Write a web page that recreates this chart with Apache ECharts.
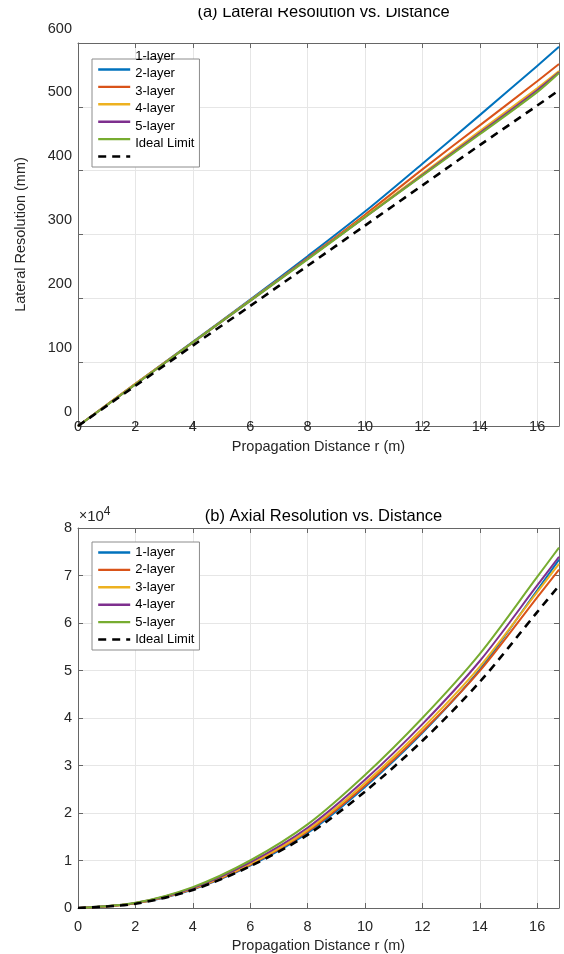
<!DOCTYPE html>
<html>
<head>
<meta charset="utf-8">
<script src="https://cdn.jsdelivr.net/npm/echarts@6/dist/echarts.min.js"></script>
<style>
body { margin: 0; background: #fff; }
#container1 { position: absolute; left: 0; top: 8px; width: 564px; height: 472px; }
#container2 { position: absolute; left: 0; top: 480px; width: 564px; height: 474px; }
</style>
</head>
<body>
<div id="container1"></div>
<div id="container2"></div>
<script>
// propagation distance r (m)
var distance = [0, 2, 4, 6, 8, 10, 12, 14, 16, 16.76];
var names = ['1-layer', '2-layer', '3-layer', '4-layer', '5-layer', 'Ideal Limit'];
var colors = ['#0072BD', '#D95319', '#EDB120', '#7E2F8E', '#77AC30', '#000000'];

// (a) lateral resolution (mm)
var lateral1 = [0, 66, 132, 198, 266, 336, 411, 487, 564, 594];
var lateral2 = [0, 66, 131, 197, 263, 331, 402, 471, 540, 567];
var lateral3 = [0, 66, 131, 197, 262, 328, 395, 462, 529, 556];
var lateral4 = [0, 65, 131, 196, 262, 327, 393, 459, 526, 554];
var lateral5 = [0, 65, 131, 196, 261, 327, 392, 457, 523, 553];
var lateralIdeal = [0, 63, 126, 188, 251, 314, 377, 440, 502, 526];

// (b) axial resolution (mm)
var axial1 = [0, 980, 3900, 8900, 15800, 25500, 36900, 50200, 66900, 73350];
var axial2 = [0, 1000, 4000, 9100, 16100, 25800, 37100, 49900, 65400, 71250];
var axial3 = [0, 1000, 4100, 9300, 16400, 26300, 37800, 50800, 66500, 72450];
var axial4 = [0, 1050, 4200, 9600, 16900, 27000, 38700, 52000, 67900, 73950];
var axial5 = [0, 1100, 4400, 10000, 17600, 28000, 40000, 53500, 69700, 75850];
var axialIdeal = [0, 900, 3800, 8800, 15400, 24500, 35200, 47600, 62300, 67850];

var font = 'Liberation Sans, Arial, sans-serif';
var axisColor = '#666666';
var textColor = '#262626';

function pairs(vals) {
    return distance.map(function (r, i) { return [r, vals[i]]; });
}

function makeSeries(list) {
    return list.map(function (vals, i) {
        var ideal = i === 5;
        return {
            name: names[i],
            type: 'line',
            smooth: 0.3,
            symbol: 'none',
            data: pairs(vals),
            z: ideal ? 3 : 2,
            lineStyle: {
                color: colors[i],
                width: ideal ? 2.6 : 2,
                type: ideal ? [8, 6] : 'solid'
            },
            itemStyle: { color: colors[i] }
        };
    });
}

function legend(top, showText, showIcon, border) {
    return {
        orient: 'vertical',
        left: 92,
        top: top,
        itemWidth: 32,
        itemHeight: 14,
        itemGap: 4.4,
        padding: [4, 5, 4, 5],
        borderColor: border ? '#8c8c8c' : 'transparent',
        borderWidth: border ? 1 : 0,
        backgroundColor: border ? '#fff' : 'transparent',
        itemStyle: { opacity: 0 },
        lineStyle: { width: 2.4, opacity: showIcon ? 1 : 0 },
        textStyle: { fontSize: 13, fontFamily: font, color: showText ? '#000' : 'rgba(0,0,0,0)' },
        data: names
    };
}

function xAxes(labelMargin, nameGap) {
    return [{
        type: 'value',
        position: 'bottom',
        min: 0, max: 16.76, interval: 2,
        name: 'Propagation Distance r (m)',
        nameLocation: 'middle',
        nameGap: nameGap,
        nameTextStyle: { fontSize: 14.5, fontFamily: font, color: textColor },
        axisLine: { onZero: false, lineStyle: { color: axisColor } },
        axisTick: { inside: true, length: 5, lineStyle: { color: axisColor } },
        axisLabel: {
            margin: labelMargin, fontSize: 14.5, fontFamily: font, color: textColor,
            formatter: function (v) { return v % 2 === 0 ? v : ''; }
        },
        splitLine: { lineStyle: { color: '#e6e6e6' } }
    }, {
        type: 'value',
        position: 'top',
        min: 0, max: 16.76, interval: 2,
        axisLine: { onZero: false, lineStyle: { color: axisColor } },
        axisTick: { inside: true, length: 5, lineStyle: { color: axisColor } },
        axisLabel: { show: false },
        splitLine: { show: false }
    }];
}

function rightAxis(max, interval) {
    return {
        type: 'value',
        position: 'right',
        min: 0, max: max, interval: interval,
        axisLine: { show: true, onZero: false, lineStyle: { color: axisColor } },
        axisTick: { show: true, inside: true, length: 5, lineStyle: { color: axisColor } },
        axisLabel: { show: false },
        splitLine: { show: false }
    };
}

/*(a) lateral*/
var dom = document.getElementById("container1");
var myChart = echarts.init(dom);
var option = {
    animation: false,
    title: {
        text: '(a) Lateral Resolution vs. Distance',
        left: 318.5, textAlign: 'center', top: -9,
        textStyle: { fontSize: 16.5, fontWeight: 'normal', fontFamily: font, color: '#000' }
    },
    grid: { left: 78, top: 35, width: 481, height: 383, outerBoundsMode: 'none' },
    legend: [legend(51, false, true, true), legend(38, true, false, false)],
    xAxis: xAxes(-7, 13),
    yAxis: [{
        type: 'value',
        position: 'left',
        min: 0, max: 600, interval: 100,
        name: 'Lateral Resolution (mm)',
        nameLocation: 'middle',
        nameGap: 50,
        nameTextStyle: { fontSize: 14.5, fontFamily: font, color: textColor },
        axisLine: { show: true, onZero: false, lineStyle: { color: axisColor } },
        axisTick: { show: true, inside: true, length: 5, lineStyle: { color: axisColor } },
        axisLabel: {
            margin: 6, fontSize: 14.5, fontFamily: font, color: textColor, lineHeight: 29,
            formatter: function (v) { return v + '\n '; }
        },
        splitLine: { lineStyle: { color: '#e6e6e6' } }
    }, rightAxis(600, 100)],
    series: makeSeries([lateral1, lateral2, lateral3, lateral4, lateral5, lateralIdeal])
};
myChart.setOption(option, true);

/*(b) axial*/
var dom2 = document.getElementById("container2");
var myChart2 = echarts.init(dom2);
var option2 = {
    animation: false,
    title: {
        text: '(b) Axial Resolution vs. Distance',
        left: 318.5, textAlign: 'center', top: 23,
        textStyle: { fontSize: 16.5, fontWeight: 'normal', fontFamily: font, color: '#000' }
    },
    grid: { left: 78, top: 48, width: 481, height: 380, outerBoundsMode: 'none' },
    legend: legend(62, true, true, true),
    xAxis: xAxes(11, 30),
    yAxis: [{
        type: 'value',
        position: 'left',
        min: 0, max: 80000, interval: 10000,
        name: '{x|×}{n|10}{s|4}',
        nameLocation: 'end',
        nameGap: 1,
        nameTextStyle: {
            align: 'left', verticalAlign: 'bottom', padding: [0, 0, 0, 1],
            rich: {
                x: { fontSize: 14, fontFamily: font, color: textColor },
                n: { fontSize: 15, fontFamily: font, color: textColor },
                s: { fontSize: 12, fontFamily: font, color: textColor, padding: [0, 0, 9, 0] }
            }
        },
        axisLine: { show: true, onZero: false, lineStyle: { color: axisColor } },
        axisTick: { show: true, inside: true, length: 5, lineStyle: { color: axisColor } },
        axisLabel: {
            margin: 6, fontSize: 14.5, fontFamily: font, color: textColor,
            formatter: function (v) { return v / 10000; }
        },
        splitLine: { lineStyle: { color: '#e6e6e6' } }
    }, rightAxis(80000, 10000)],
    series: makeSeries([axial1, axial2, axial3, axial4, axial5, axialIdeal])
};
myChart2.setOption(option2, true);
</script>
</body>
</html>
